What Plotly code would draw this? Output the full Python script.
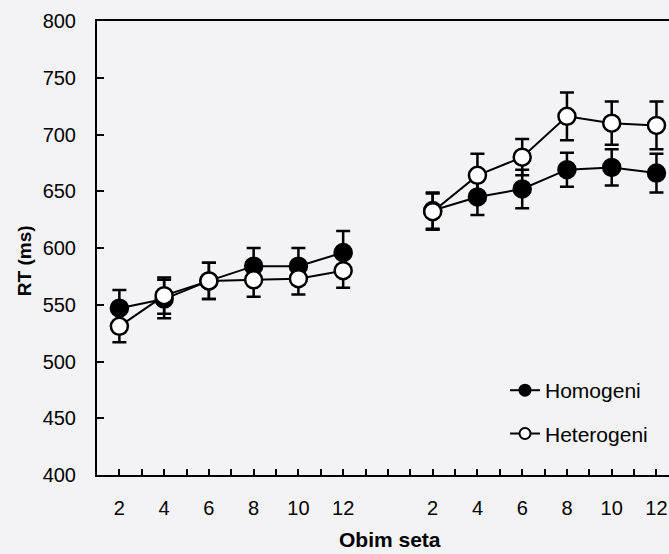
import plotly.graph_objects as go

# ---- data ----
set_sizes = [2, 4, 6, 8, 10, 12]
series_names = ["Homogeni", "Heterogeni"]

homo_block1 = [547, 555, 571, 584, 584, 596]
homo_block1_se = [16, 17, 16, 16, 16, 19]
hetero_block1 = [531, 558, 571, 572, 573, 580]
hetero_block1_se = [14, 16, 16, 15, 14, 15]

homo_block2 = [633, 645, 652, 669, 671, 666]
homo_block2_se = [16, 16, 17, 15, 16, 17]
hetero_block2 = [632, 664, 680, 716, 710, 708]
hetero_block2_se = [16, 19, 16, 21, 19, 21]

y_ticks = [400, 450, 500, 550, 600, 650, 700, 750, 800]

# positions on a numeric axis: block 1 at 1..6, gap, block 2 at 8..13
pos1 = list(range(1, len(set_sizes) + 1))
pos2 = [p + len(set_sizes) + 1 for p in pos1]
gap_pos = len(set_sizes) + 1

FONT = "Liberation Sans, Arial, sans-serif"
BG = "#f3f3f5"

fig = go.Figure()

fills = {"Homogeni": "black", "Heterogeni": "white"}

blocks = {
    "Homogeni": [(pos1, homo_block1, homo_block1_se), (pos2, homo_block2, homo_block2_se)],
    "Heterogeni": [(pos1, hetero_block1, hetero_block1_se), (pos2, hetero_block2, hetero_block2_se)],
}

for name in series_names:
    for xs, ys, se in blocks[name]:
        fig.add_trace(go.Scatter(
            x=xs, y=ys, name=name, legendgroup=name, showlegend=False,
            mode="lines+markers",
            line=dict(color="black", width=2),
            marker=dict(symbol="circle", size=17, color=fills[name],
                        line=dict(color="black", width=2.5)),
            error_y=dict(type="data", array=se, visible=True, color="black",
                         thickness=2.5, width=7),
        ))

# legend-only entries (no error bars in the key)
for name in series_names:
    fig.add_trace(go.Scatter(
        x=[None], y=[None], name=name, legendgroup=name, showlegend=True,
        mode="lines+markers",
        line=dict(color="black", width=2),
        marker=dict(symbol="circle", size=11, color=fills[name],
                    line=dict(color="black", width=2)),
    ))

tickvals = pos1 + [gap_pos] + pos2
ticktext = [str(s) for s in set_sizes] + [""] + [str(s) for s in set_sizes]

fig.update_layout(
    width=669, height=554,
    margin=dict(l=97, r=0, t=21, b=79),
    paper_bgcolor=BG, plot_bgcolor=BG,
    font=dict(family=FONT, size=20, color="black"),
    showlegend=True,
    legend=dict(
        x=(505 - 97) / 572, y=(475 - 370) / 454.3, xanchor="left", yanchor="top",
        bgcolor="rgba(0,0,0,0)", borderwidth=0,
        font=dict(family=FONT, size=21, color="black"),
        traceorder="grouped", tracegroupgap=13,
    ),
    xaxis=dict(
        range=[0.5, 13.28], tickvals=tickvals, ticktext=ticktext,
        ticks="inside", ticklen=6, tickwidth=2, tickcolor="black",
        minor=dict(dtick=0.5, tick0=0.5, ticks="inside", ticklen=6, tickwidth=2,
                   tickcolor="black", showgrid=False),
        showline=True, linecolor="black", linewidth=2, mirror=True,
        showgrid=False, zeroline=False, ticklabelstandoff=14,
        tickfont=dict(family=FONT, size=20, color="black"),
    ),
    yaxis=dict(
        range=[400, 800], tickvals=y_ticks,
        ticks="inside", ticklen=7, tickwidth=2, tickcolor="black",
        showline=True, linecolor="black", linewidth=2, mirror=False,
        showgrid=False, zeroline=False, ticklabelstandoff=15,
        tickfont=dict(family=FONT, size=20, color="black"),
    ),
    annotations=[
        dict(text="<b>RT (ms)</b>", xref="paper", yref="paper",
             x=(24 - 97) / 572, y=(475 - 261) / 454.3, textangle=-90,
             showarrow=False, xanchor="center", yanchor="middle",
             font=dict(family=FONT, size=19, color="black")),
        dict(text="<b>Obim seta</b>", xref="paper", yref="paper",
             x=(390 - 97) / 572, y=(475 - 540) / 454.3,
             showarrow=False, xanchor="center", yanchor="middle",
             font=dict(family=FONT, size=21, color="black")),
    ],
)

fig.write_html("out.html")
